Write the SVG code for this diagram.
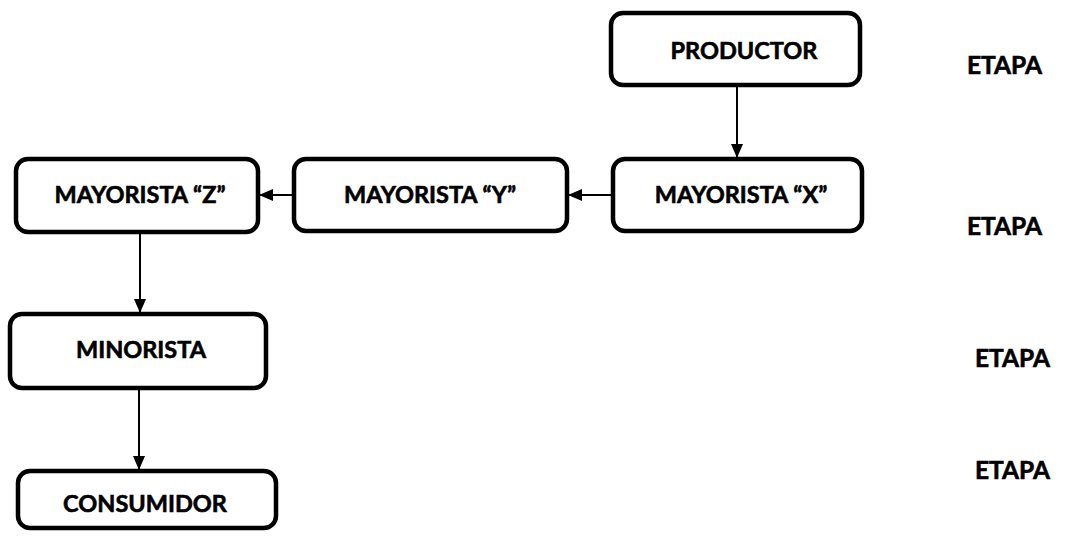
<svg xmlns="http://www.w3.org/2000/svg" width="1067" height="538" viewBox="0 0 1067 538">
<style>
.box{fill:#fff;stroke:#000;stroke-width:4.5}
.t{font-family:Lato,"Open Sans","Liberation Sans",sans-serif;font-weight:bold;font-size:23.5px;fill:#000;stroke:#000;stroke-width:0.6;text-anchor:middle}
.e{font-family:Lato,"Open Sans","Liberation Sans",sans-serif;font-weight:bold;font-size:24.5px;fill:#000;stroke:#000;stroke-width:0.6}
.c{stroke:#000;stroke-width:2;fill:none;marker-end:url(#ah)}
</style>
<defs>
<marker id="ah" markerWidth="14" markerHeight="12" refX="13" refY="6" orient="auto" markerUnits="userSpaceOnUse">
<path d="M0,0 L14,6 L0,12 z" fill="#000"/>
</marker>
</defs>
<rect width="1067" height="538" fill="#fff"/>
<g id="connectors">
<line class="c" x1="737" y1="85" x2="737" y2="157"/>
<line class="c" x1="611" y1="195" x2="569" y2="195"/>
<line class="c" x1="293" y1="195" x2="260" y2="195"/>
<line class="c" x1="140" y1="233" x2="140" y2="312"/>
<line class="c" x1="139" y1="389" x2="139" y2="469"/>
</g>
<g id="productor"><rect class="box" x="611" y="13" width="249" height="72" rx="12"/><text class="t" x="744" y="59">PRODUCTOR</text></g>
<g id="mayorista-x"><rect class="box" x="613" y="159" width="249" height="72" rx="12"/><text class="t" x="741" y="203">MAYORISTA “X”</text></g>
<g id="mayorista-y"><rect class="box" x="294" y="159" width="273" height="72" rx="12"/><text class="t" x="430" y="203">MAYORISTA “Y”</text></g>
<g id="mayorista-z"><rect class="box" x="16" y="159" width="242" height="73" rx="12"/><text class="t" x="140" y="203">MAYORISTA “Z”</text></g>
<g id="minorista"><rect class="box" x="10" y="314" width="256" height="74" rx="12"/><text class="t" x="141" y="358">MINORISTA</text></g>
<g id="consumidor"><rect class="box" x="18" y="471" width="258" height="57" rx="12"/><text class="t" x="145" y="512">CONSUMIDOR</text></g>
<g id="etapas">
<text class="e" x="967" y="74">ETAPA</text>
<text class="e" x="967" y="235">ETAPA</text>
<text class="e" x="975" y="367">ETAPA</text>
<text class="e" x="975" y="479">ETAPA</text>
</g>
</svg>
